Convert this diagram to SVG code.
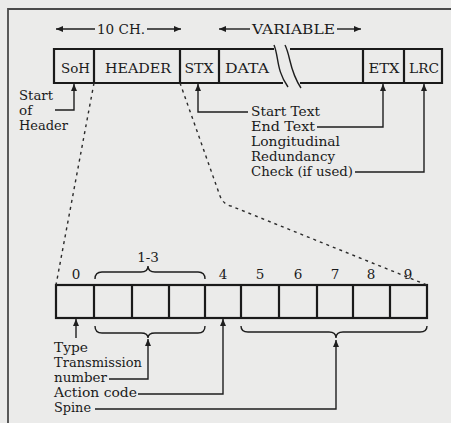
<svg xmlns="http://www.w3.org/2000/svg" width="451" height="423" viewBox="0 0 451 423">
<defs>
<marker id="ah" markerUnits="userSpaceOnUse" markerWidth="8" markerHeight="6" refX="7" refY="3" orient="auto">
<path d="M0,0 L7,3 L0,6 z" fill="#1e1e1e"/>
</marker>
<style>
text{font-family:"DejaVu Serif","Liberation Serif",serif;font-size:13.5px;fill:#1a1a1a}
.sm{font-size:12.5px}
.box{fill:none;stroke:#1a1a1a;stroke-width:2.2}
.ln{fill:none;stroke:#1e1e1e;stroke-width:1.4}
.ar{fill:none;stroke:#1e1e1e;stroke-width:1.4;marker-end:url(#ah)}
.dash{fill:none;stroke:#2a2a2a;stroke-width:1.4;stroke-dasharray:3 4}
.c{text-anchor:middle}
</style>
</defs>
<rect width="451" height="423" fill="#ebebea"/>
<path d="M8,423 V9 H451" fill="none" stroke="#4a4a4a" stroke-width="1.8"/>

<g id="dimensions">
<text x="97" y="34" textLength="48" lengthAdjust="spacingAndGlyphs">10 CH.</text>
<text x="252" y="34" textLength="83" lengthAdjust="spacingAndGlyphs">VARIABLE</text>
</g>

<g id="message-frame">
<path class="box" d="M283,83 H54 V49 H274"/>
<path class="box" d="M290,49 H442 V83 H300"/>
<path class="ln" d="M274,45 C279,57 276,70 288,87"/>
<path class="ln" d="M285,45 C291,57 289,70 301,88"/>
<path class="box" d="M94,49 V83 M180,49 V83 M219,49 V83 M363,49 V83 M404,49 V83"/>
</g>
<g id="soh"><text class="c" x="75.5" y="73" textLength="29" lengthAdjust="spacingAndGlyphs">SoH</text></g>
<g id="header"><text class="c" x="138" y="73" textLength="66" lengthAdjust="spacingAndGlyphs">HEADER</text></g>
<g id="stx"><text class="c" x="199" y="73" textLength="29" lengthAdjust="spacingAndGlyphs">STX</text></g>
<g id="data"><text x="225" y="73" textLength="44" lengthAdjust="spacingAndGlyphs">DATA</text></g>
<g id="etx"><text class="c" x="384" y="73" textLength="31" lengthAdjust="spacingAndGlyphs">ETX</text></g>
<g id="lrc"><text class="c" x="424" y="73" textLength="30" lengthAdjust="spacingAndGlyphs">LRC</text></g>

<g id="top-labels">
<text x="19" y="100" textLength="34" lengthAdjust="spacingAndGlyphs">Start</text>
<text x="19" y="115">of</text>
<text x="19" y="130" textLength="49" lengthAdjust="spacingAndGlyphs">Header</text>
<text x="251" y="116" textLength="69" lengthAdjust="spacingAndGlyphs">Start Text</text>
<text x="251" y="131" textLength="64" lengthAdjust="spacingAndGlyphs">End Text</text>
<text x="251" y="146" textLength="89" lengthAdjust="spacingAndGlyphs">Longitudinal</text>
<text x="251" y="161" textLength="84" lengthAdjust="spacingAndGlyphs">Redundancy</text>
<text x="251" y="176" textLength="102" lengthAdjust="spacingAndGlyphs">Check (if used)</text>
</g>

<g id="header-cells">
<rect class="box" x="56" y="285" width="371" height="33"/>
<path class="box" d="M94,285 V318 M132,285 V318 M169,285 V318 M205,285 V318 M241,285 V318 M279,285 V318 M317,285 V318 M353,285 V318 M390,285 V318"/>
<text class="c" x="76" y="279">0</text>
<text class="c" x="148" y="262">1-3</text>
<text class="c" x="223" y="279">4</text>
<text class="c" x="260" y="279">5</text>
<text class="c" x="298" y="279">6</text>
<text class="c" x="335" y="279">7</text>
<text class="c" x="371" y="279">8</text>
<text class="c" x="408" y="279">9</text>
</g>

<g id="bottom-labels">
<text class="sm" x="54" y="352" textLength="34" lengthAdjust="spacingAndGlyphs">Type</text>
<text class="sm" x="54" y="367" textLength="88" lengthAdjust="spacingAndGlyphs">Transmission</text>
<text class="sm" x="54" y="382" textLength="53" lengthAdjust="spacingAndGlyphs">number</text>
<text class="sm" x="54" y="397" textLength="83" lengthAdjust="spacingAndGlyphs">Action code</text>
<text class="sm" x="54" y="412" textLength="37" lengthAdjust="spacingAndGlyphs">Spine</text>
</g>

<g id="connectors">
<path class="ar" d="M95,29 H56"/>
<path class="ar" d="M147,29 H181"/>
<path class="ar" d="M250,29 H219"/>
<path class="ar" d="M337,29 H361"/>
<path class="ar" d="M55,110 H74 V84"/>
<path class="ar" d="M248,112 H198 V84"/>
<path class="ar" d="M317,127 H383 V84"/>
<path class="ar" d="M355,172 H424 V84"/>
<path class="dash" d="M94,83 L56,285"/>
<path class="dash" d="M180,83 L220,196 Q223,204 231,206 L427,285"/>
<path class="ln" d="M95,279 Q95,272 102,272 L141,272 Q148,272 148,266 Q148,272 155,272 L198,272 Q205,272 205,279"/>
<path class="ln" d="M95,326 Q95,333 102,333 L141,333 Q148,333 148,338 Q148,333 155,333 L198,333 Q205,333 205,326"/>
<path class="ln" d="M241,326 Q241,332 248,332 L329,332 Q336,332 336,338 Q336,332 343,332 L420,332 Q427,332 427,326"/>
<path class="ar" d="M76,338 V319"/>
<path class="ar" d="M109,379 H148 V339"/>
<path class="ar" d="M138,394 H223 V319"/>
<path class="ar" d="M95,409 H336 V340"/>
</g>
</svg>
